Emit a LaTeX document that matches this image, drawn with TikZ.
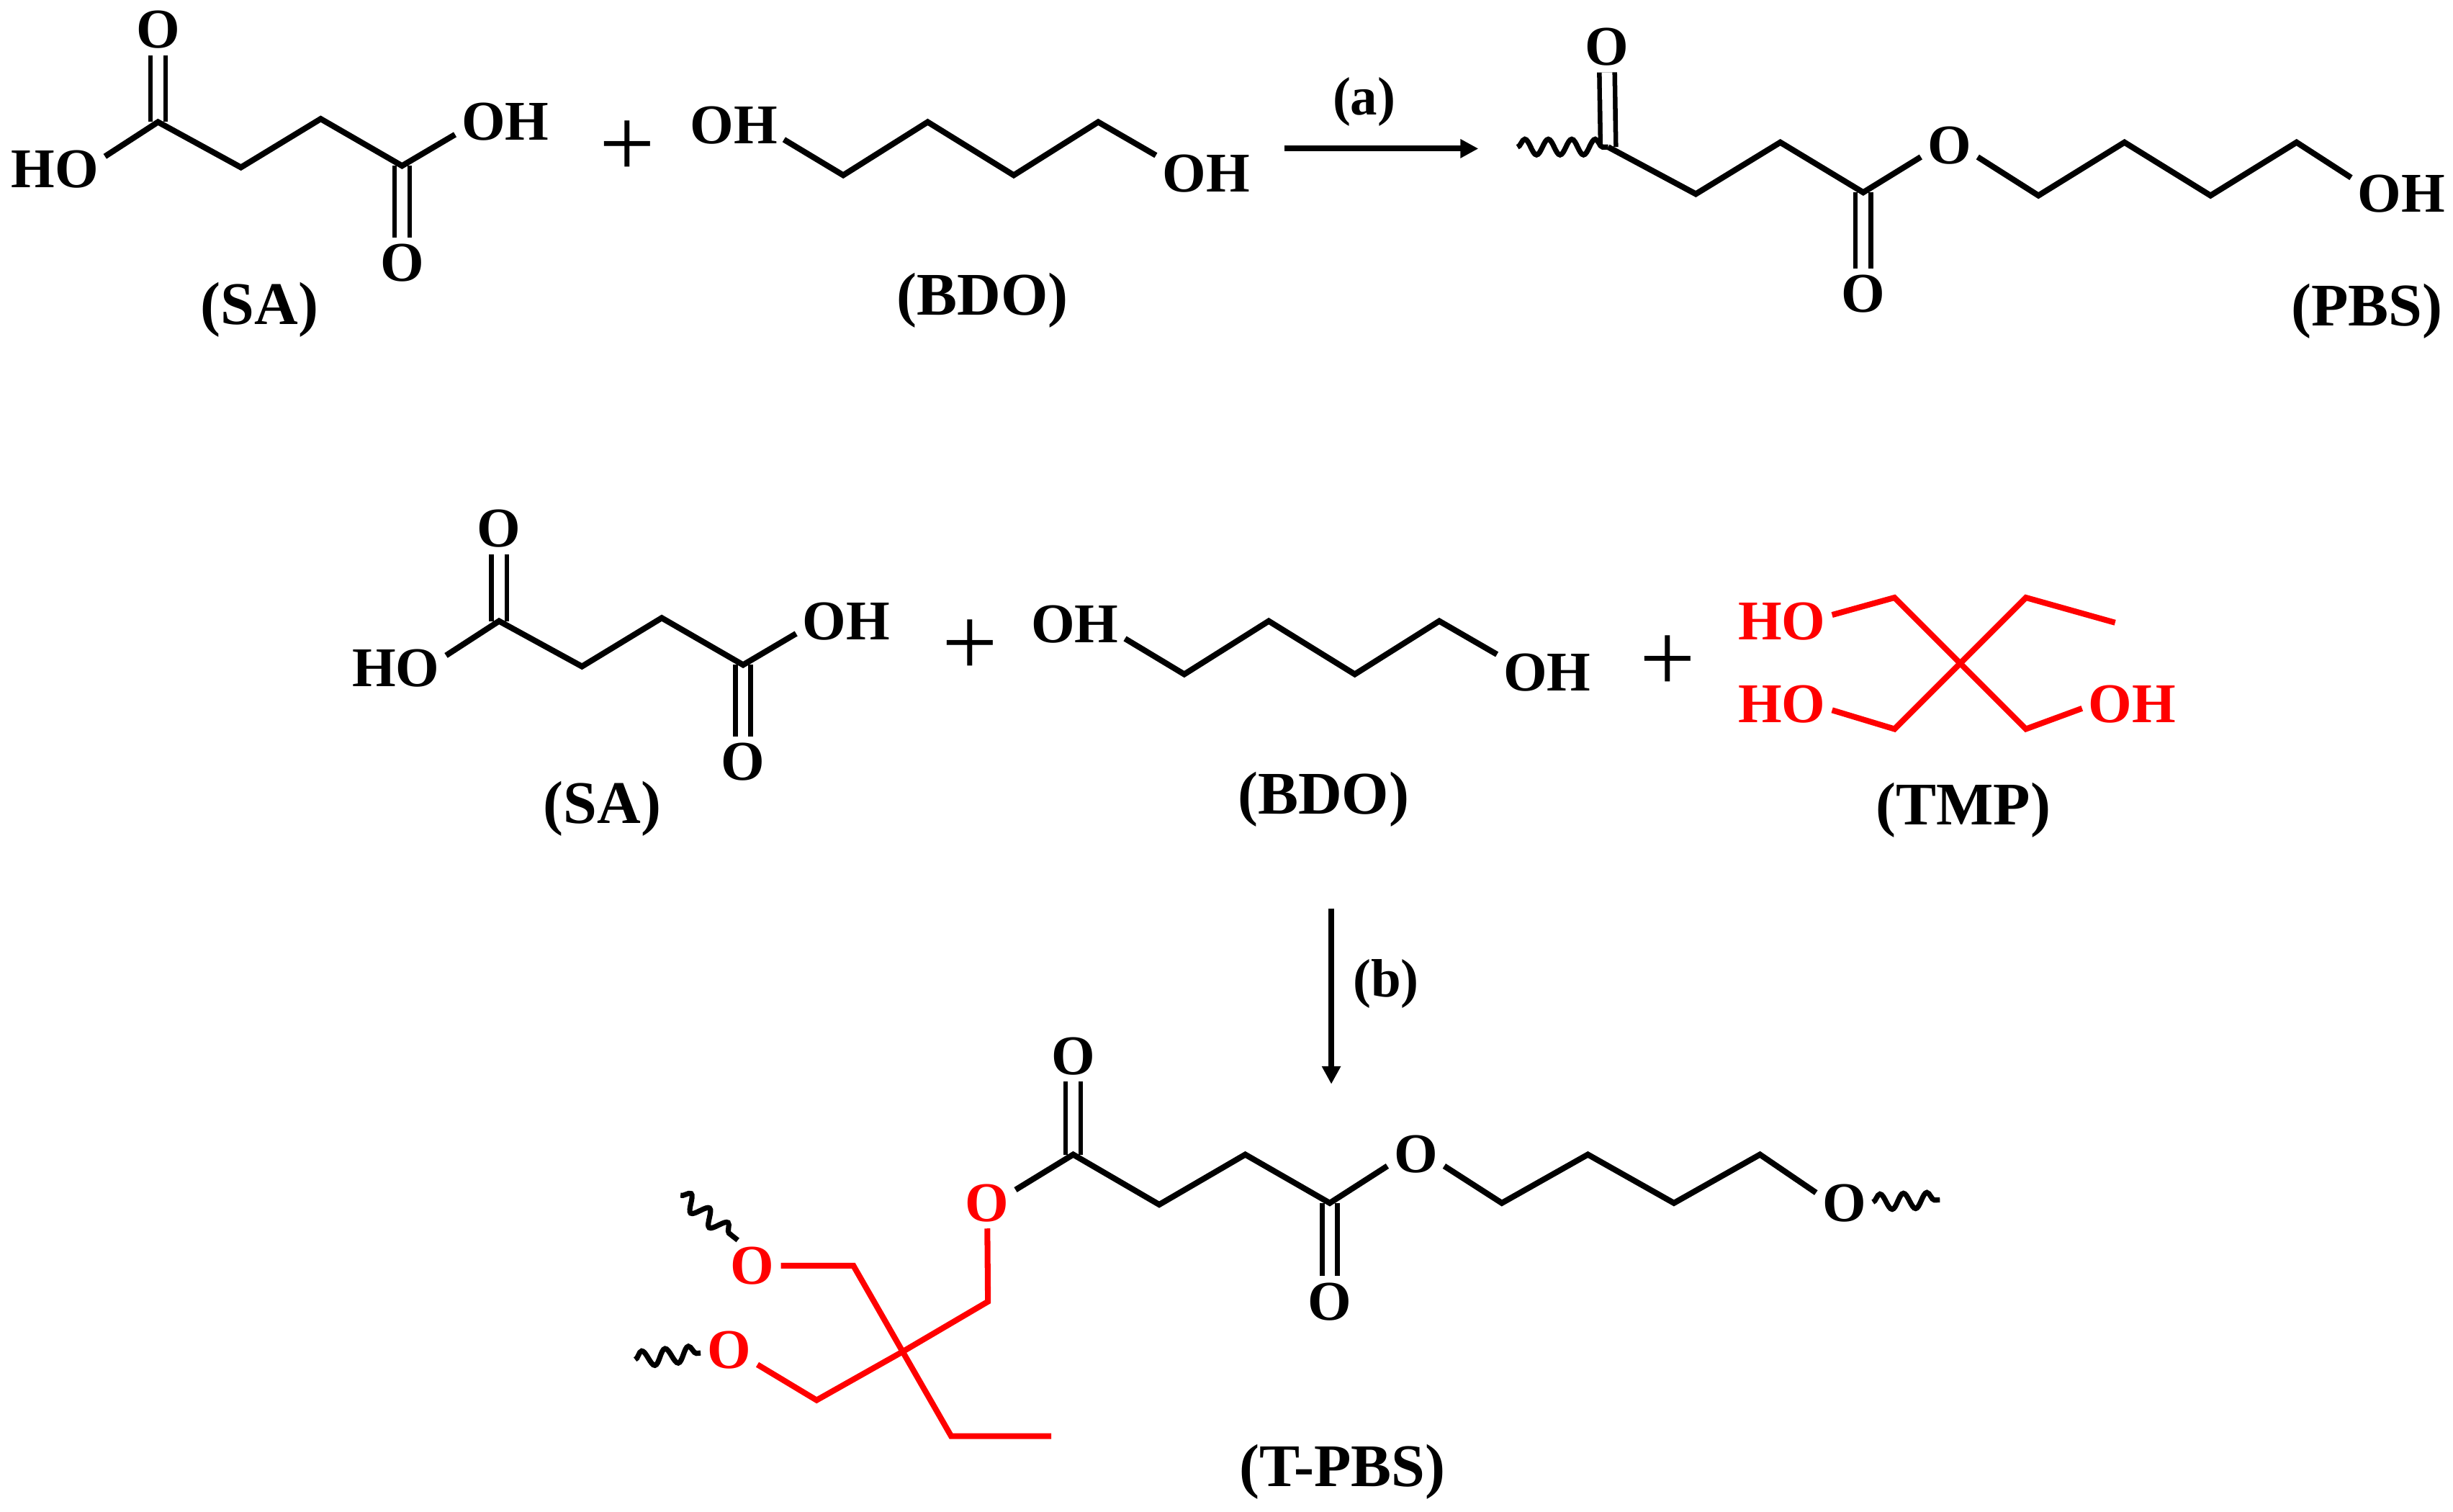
\documentclass[tikz,border=0pt]{standalone}
\usepackage{fontspec}
\setmainfont{Liberation Serif}
\usetikzlibrary{arrows.meta,decorations.pathmorphing}
\tikzstyle{atom} = [font=\fontsize{10.2}{12}\selectfont\bfseries, inner sep=1pt, text=black]
\tikzstyle{redatom} = [atom, text=red]
\tikzstyle{compound} = [font=\fontsize{11}{13}\selectfont\bfseries, inner sep=0pt]
\tikzstyle{stepname} = [font=\fontsize{9.8}{12}\selectfont\bfseries, inner sep=0pt]
\tikzstyle{plussign} = [font=\fontsize{18}{20}\selectfont, inner sep=0pt]
\tikzstyle{bond} = [black, line width=0.037cm, line join=miter]
\tikzstyle{redbond} = [red, line width=0.037cm, line join=miter]
\tikzstyle{dbl} = [black, line width=0.03cm, double=white, double distance=0.068cm]
\tikzstyle{wavy} = [black, line width=0.033cm, decorate,
    decoration={snake, segment length=0.15cm, amplitude=0.05cm}]
\tikzstyle{rxn} = [black, line width=0.036cm, -{Triangle[length=0.115cm, width=0.115cm]}]

\begin{document}
\begin{tikzpicture}[x=0.01cm, y=-0.01cm]
  \useasboundingbox (0,0) rectangle (1568,966.4);

  % first line
  \node (sao1) [atom] at (101,19) {O};
  \node (saho) [atom] at (35,108) {HO};
  \node (saoh) [atom] at (323,78) {OH};
  \node (sao2) [atom] at (257,168) {O};
  \coordinate (sac1) at (101,78);
  \coordinate (sac2) at (154,107);
  \coordinate (sac3) at (205,76);
  \coordinate (sac4) at (257,106);
  \node (salabel) [compound] at (166,198) {(SA)};
  \draw [dbl] (sao1) -- (sac1);
  \draw [dbl] (sao2) -- (sac4);
  \draw [bond] (saho.14) -- (sac1) -- (sac2) -- (sac3) -- (sac4) -- (saoh.194);

  \node (plusa) [plussign] at (401,95) {+};

  \node (bdoa) [atom] at (469,80) {OH};
  \node (bdob) [atom] at (771,111) {OH};
  \coordinate (bdoc1) at (539,112);
  \coordinate (bdoc2) at (593,78);
  \coordinate (bdoc3) at (648,112);
  \coordinate (bdoc4) at (702,78);
  \node (bdolabel) [compound] at (628,192) {(BDO)};
  \draw [bond] (bdoa.-16) -- (bdoc1) -- (bdoc2) -- (bdoc3) -- (bdoc4) -- (bdob.160);

  \coordinate (arra1) at (821,95);
  \coordinate (arra2) at (945,95);
  \draw [rxn] (arra1) -- (arra2);
  \node (stepa) [stepname] at (872,65) {(a)};

  \coordinate (pbsend) at (970,94);
  \node (pbso1) [atom] at (1027,30) {O};
  \node (pbso2) [atom] at (1191,188) {O};
  \node (pbso3) [atom] at (1246,93) {O};
  \node (pbsoh) [atom] at (1535,124) {OH};
  \coordinate (pbsc1) at (1028,94);
  \coordinate (pbsc2) at (1084,124);
  \coordinate (pbsc3) at (1138,91);
  \coordinate (pbsc4) at (1191,123);
  \coordinate (pbsc5) at (1303,125);
  \coordinate (pbsc6) at (1358,91);
  \coordinate (pbsc7) at (1413,125);
  \coordinate (pbsc8) at (1468,91);
  \node (pbslabel) [compound] at (1513,199) {(PBS)};
  \draw [dbl] (pbso1) -- (pbsc1);
  \draw [dbl] (pbso2) -- (pbsc4);
  \draw [wavy] (pbsend) -- (pbsc1);
  \draw [bond] (pbsc1) -- (pbsc2) -- (pbsc3) -- (pbsc4) -- (pbso3.-158);
  \draw [bond] (pbso3.-22) -- (pbsc5) -- (pbsc6) -- (pbsc7) -- (pbsc8) -- (pbsoh.162);

  % second line
  \node (tsao1) [atom] at (319,338) {O};
  \node (tsaho) [atom] at (253,427) {HO};
  \node (tsaoh) [atom] at (541,397) {OH};
  \node (tsao2) [atom] at (475,487) {O};
  \coordinate (tsac1) at (319,397);
  \coordinate (tsac2) at (372,426);
  \coordinate (tsac3) at (423,395);
  \coordinate (tsac4) at (475,425);
  \node (tsalabel) [compound] at (385,517) {(SA)};
  \draw [dbl] (tsao1) -- (tsac1);
  \draw [dbl] (tsao2) -- (tsac4);
  \draw [bond] (tsaho.14) -- (tsac1) -- (tsac2) -- (tsac3) -- (tsac4) -- (tsaoh.194);

  \node (plusb) [plussign] at (620,414) {+};

  \node (tbdoa) [atom] at (687,399) {OH};
  \node (tbdob) [atom] at (989,430) {OH};
  \coordinate (tbdoc1) at (757,431);
  \coordinate (tbdoc2) at (811,397);
  \coordinate (tbdoc3) at (866,431);
  \coordinate (tbdoc4) at (920,397);
  \node (tbdolabel) [compound] at (846,511) {(BDO)};
  \draw [bond] (tbdoa.-16) -- (tbdoc1) -- (tbdoc2) -- (tbdoc3) -- (tbdoc4) -- (tbdob.160);

  \node (plusc) [plussign] at (1066,424) {+};

  \node (tmpa) [redatom] at (1139,397) {HO};
  \node (tmpb) [redatom] at (1139,450) {HO};
  \node (tmpc) [redatom] at (1363,450) {OH};
  \coordinate (tmpmid) at (1253,424);
  \coordinate (tmpc1) at (1211,382);
  \coordinate (tmpc2) at (1211,466);
  \coordinate (tmpc3) at (1295,466);
  \coordinate (tmpc4) at (1295,382);
  \coordinate (tmpc5) at (1352,398);
  \node (tmplabel) [compound] at (1255,518) {(TMP)};
  \draw [redbond] (tmpa.7) -- (tmpc1) -- (tmpmid) -- (tmpc3) -- (tmpc.185);
  \draw [redbond] (tmpb.-7) -- (tmpc2) -- (tmpmid) -- (tmpc4) -- (tmpc5);

  \coordinate (arrb1) at (851,581);
  \coordinate (arrb2) at (851,693);
  \draw [rxn] (arrb1) -- (arrb2);
  \node (stepb) [stepname] at (886,629) {(b)};

  % third line
  \node (tpo1) [atom] at (686,675) {O};
  \node (tpo2) [atom] at (850,832) {O};
  \node (tpo3) [atom] at (905,738) {O};
  \node (tpo4) [atom] at (1179,769) {O};
  \node (tpo5) [redatom] at (631,769) {O};
  \node (tpo6) [redatom] at (481,809) {O};
  \node (tpo7) [redatom] at (466,863) {O};
  \coordinate (tpc1) at (686,738);
  \coordinate (tpc2) at (741,770);
  \coordinate (tpc3) at (796,738);
  \coordinate (tpc4) at (850,769);
  \coordinate (tpc5) at (960,769);
  \coordinate (tpc6) at (1015,738);
  \coordinate (tpc7) at (1070,769);
  \coordinate (tpc8) at (1125,738);
  \coordinate (tpr1) at (631.5,832);
  \coordinate (tpr2) at (577,864);
  \coordinate (tpr3) at (522,895);
  \coordinate (tpr4) at (545.5,809);
  \coordinate (tpr5) at (608,918);
  \coordinate (tpr6) at (672,918);
  \coordinate (tpenda) at (1240,767);
  \coordinate (tpendb) at (435,764);
  \coordinate (tpendc) at (406,869);
  \node (tplabel) [compound] at (858,941) {(T-PBS)};
  \draw [dbl] (tpo1) -- (tpc1);
  \draw [dbl] (tpo2) -- (tpc4);
  \draw [bond] (tpo5.25) -- (tpc1) -- (tpc2) -- (tpc3) -- (tpc4) -- (tpo3.-158);
  \draw [bond] (tpo3.-22) -- (tpc5) -- (tpc6) -- (tpc7) -- (tpc8) -- (tpo4.160);
  \draw [redbond] (tpo5) -- (tpr1) -- (tpr2) -- (tpr3) -- (tpo7.-27);
  \draw [redbond] (tpo6) -- (tpr4) -- (tpr2) -- (tpr5) -- (tpr6);
  \draw [wavy] (tpo4) -- (tpenda);
  \draw [wavy] (tpendb) -- (tpo6.120);
  \draw [wavy] (tpendc) -- (tpo7);
\end{tikzpicture}
\end{document}
